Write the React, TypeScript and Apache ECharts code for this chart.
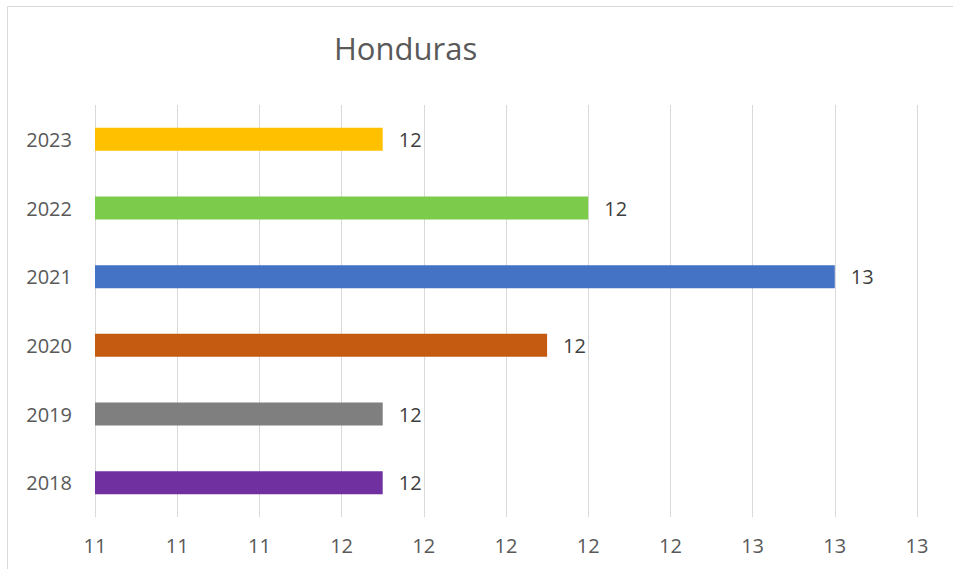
import React, { useEffect, useRef } from "react";
import * as echarts from "echarts";

const title = "Honduras";
const years = ["2018", "2019", "2020", "2021", "2022", "2023"];
const values = [11.7, 11.7, 12.1, 12.8, 12.2, 11.7];
const barColors = ["#7030A0", "#7F7F7F", "#C55A11", "#4472C4", "#7DCB4A", "#FFC000"];
const axisMin = 11;
const axisMax = 13;
const axisStep = 0.2;

export default function App() {
  const ref = useRef<HTMLDivElement>(null);
  useEffect(() => {
    if (!ref.current) return;
    const chart = echarts.init(ref.current, null, { renderer: "svg" });
    const font = "'Open Sans', sans-serif";
    chart.setOption({
      animation: false,
      backgroundColor: "#ffffff",
      title: {
        text: title,
        left: 329,
        top: 27,
        textStyle: { fontFamily: font, fontSize: 31, fontWeight: "normal", color: "#595959" },
      },
      graphic: [
        {
          type: "rect",
          shape: { x: 7.5, y: 6.5, width: 980, height: 600 },
          style: { fill: "none", stroke: "#d9d9d9", lineWidth: 1 },
          silent: true,
        },
      ],
      grid: { left: 95, right: 36, top: 105, bottom: 52, containLabel: false },
      xAxis: {
        type: "value",
        min: axisMin,
        max: axisMax,
        interval: axisStep,
        axisLine: { show: false },
        axisTick: { show: false },
        splitLine: { show: true, lineStyle: { color: "#d9d9d9", width: 1 } },
        axisLabel: {
          fontFamily: font,
          fontSize: 20,
          color: "#595959",
          margin: 18,
          formatter: (v: number) => String(Math.round(v)),
        },
      },
      yAxis: {
        type: "category",
        data: years,
        axisLine: { show: false },
        axisTick: { show: false },
        splitLine: { show: false },
        axisLabel: { fontFamily: font, fontSize: 20, color: "#595959", margin: 23 },
      },
      series: [
        {
          type: "bar",
          barWidth: 23,
          data: values.map((v, i) => ({ value: v, itemStyle: { color: barColors[i] } })),
          label: {
            show: true,
            position: "right",
            distance: 16,
            fontFamily: font,
            fontSize: 20,
            color: "#404040",
            formatter: (p: any) => String(Math.round(p.value)),
          },
        },
      ],
    });
    return () => chart.dispose();
  }, []);
  return (
    <div
      ref={ref}
      style={{ position: "absolute", left: 0, top: 0, width: 953, height: 569 }}
    />
  );
}
